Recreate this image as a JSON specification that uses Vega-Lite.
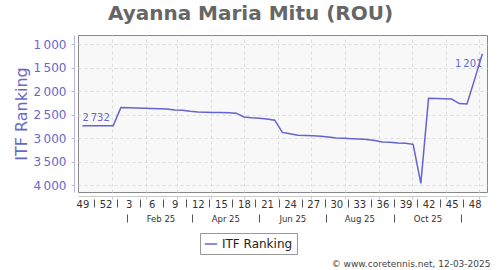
{
  "$schema": "https://vega.github.io/schema/vega-lite/v6.json",
  "width": 409,
  "height": 157,
  "autosize": {"type": "none"},
  "padding": {"left": 78, "top": 35, "right": 13, "bottom": 78},
  "title": {"text": "Ayanna Maria Mitu (ROU)", "fontSize": 20, "font": "DejaVu Sans", "fontWeight": "bold", "color": "#666666", "anchor": "middle", "baseline": "middle", "offset": 1, "dx": -32},
  "config": {
    "font": "DejaVu Sans",
    "locale": {"number": {"decimal": ".", "thousands": "\u2009", "grouping": [3], "currency": ["", ""]}},
    "view": {"stroke": "#888888", "strokeWidth": 1, "fill": "#f8f8f8"}
  },
  "data": {
    "format": {"parse": {"date": "date"}},
    "values": [
      {"date": "2024-12-05", "rank": 2732},
      {"date": "2024-12-12", "rank": 2732},
      {"date": "2024-12-19", "rank": 2732},
      {"date": "2024-12-26", "rank": 2732},
      {"date": "2025-01-02", "rank": 2732},
      {"date": "2025-01-09", "rank": 2347},
      {"date": "2025-01-16", "rank": 2352},
      {"date": "2025-01-23", "rank": 2357},
      {"date": "2025-01-30", "rank": 2362},
      {"date": "2025-02-06", "rank": 2367},
      {"date": "2025-02-13", "rank": 2372},
      {"date": "2025-02-20", "rank": 2378},
      {"date": "2025-02-27", "rank": 2400},
      {"date": "2025-03-06", "rank": 2405},
      {"date": "2025-03-13", "rank": 2425},
      {"date": "2025-03-20", "rank": 2440},
      {"date": "2025-03-27", "rank": 2445},
      {"date": "2025-04-03", "rank": 2450},
      {"date": "2025-04-10", "rank": 2452},
      {"date": "2025-04-17", "rank": 2455},
      {"date": "2025-04-24", "rank": 2465},
      {"date": "2025-05-01", "rank": 2545},
      {"date": "2025-05-08", "rank": 2565},
      {"date": "2025-05-15", "rank": 2575},
      {"date": "2025-05-22", "rank": 2590},
      {"date": "2025-05-29", "rank": 2615},
      {"date": "2025-06-05", "rank": 2875},
      {"date": "2025-06-12", "rank": 2905},
      {"date": "2025-06-19", "rank": 2935},
      {"date": "2025-06-26", "rank": 2940},
      {"date": "2025-07-03", "rank": 2948},
      {"date": "2025-07-10", "rank": 2957},
      {"date": "2025-07-17", "rank": 2975},
      {"date": "2025-07-24", "rank": 2993},
      {"date": "2025-07-31", "rank": 3000},
      {"date": "2025-08-07", "rank": 3008},
      {"date": "2025-08-14", "rank": 3015},
      {"date": "2025-08-21", "rank": 3028},
      {"date": "2025-08-28", "rank": 3050},
      {"date": "2025-09-04", "rank": 3078},
      {"date": "2025-09-11", "rank": 3085},
      {"date": "2025-09-18", "rank": 3099},
      {"date": "2025-09-25", "rank": 3105},
      {"date": "2025-10-02", "rank": 3130},
      {"date": "2025-10-09", "rank": 3960},
      {"date": "2025-10-16", "rank": 2150},
      {"date": "2025-10-23", "rank": 2155},
      {"date": "2025-10-30", "rank": 2160},
      {"date": "2025-11-06", "rank": 2165},
      {"date": "2025-11-13", "rank": 2260},
      {"date": "2025-11-20", "rank": 2270},
      {"date": "2025-11-27", "rank": 1740},
      {"date": "2025-12-04", "rank": 1201}
    ]
  },
  "encoding": {
    "y": {
      "field": "rank",
      "type": "quantitative",
      "scale": {"domain": [800, 4145], "reverse": true, "nice": false, "zero": false},
      "axis": {
        "values": [1000, 1500, 2000, 2500, 3000, 3500, 4000],
        "format": ",d",
        "offset": 4,
        "domainColor": "#b8b8e6",
        "tickColor": "#b8b8e6",
        "tickSize": 3,
        "labelColor": "#6868cc",
        "labelFontSize": 12,
        "labelPadding": 5,
        "title": "ITF Ranking",
        "titleColor": "#6868cc",
        "titleFontSize": 16,
        "titleFontWeight": "normal",
        "titlePadding": 4,
        "grid": true,
        "gridColor": "#dddddd",
        "gridDash": [3, 3]
      }
    }
  },
  "layer": [
    {
      "mark": {"type": "line", "strokeWidth": 1.5},
      "encoding": {
        "x": {
          "field": "date",
          "type": "temporal",
          "scale": {"type": "utc", "nice": false, "domain": [{"year": 2024, "month": 12, "date": 1, "utc": true}, {"year": 2025, "month": 12, "date": 8, "hours": 5, "utc": true}]},
          "axis": {
            "orient": "bottom",
            "title": null,
            "labels": false,
            "values": [
              {"year": 2025, "month": 1, "date": 1, "utc": true},
              {"year": 2025, "month": 2, "date": 1, "utc": true},
              {"year": 2025, "month": 3, "date": 1, "utc": true},
              {"year": 2025, "month": 4, "date": 1, "utc": true},
              {"year": 2025, "month": 5, "date": 1, "utc": true},
              {"year": 2025, "month": 6, "date": 1, "utc": true},
              {"year": 2025, "month": 7, "date": 1, "utc": true},
              {"year": 2025, "month": 8, "date": 1, "utc": true},
              {"year": 2025, "month": 9, "date": 1, "utc": true},
              {"year": 2025, "month": 10, "date": 1, "utc": true},
              {"year": 2025, "month": 11, "date": 1, "utc": true},
              {"year": 2025, "month": 12, "date": 1, "utc": true}
            ],
            "offset": 4,
            "domainColor": "#cccccc",
            "tickColor": "#cccccc",
            "tickSize": 3,
            "grid": true,
            "gridColor": "#dddddd",
            "gridDash": [3, 3]
          }
        },
        "color": {
          "datum": "ITF Ranking",
          "scale": {"range": ["#6363d1"]},
          "legend": {
            "orient": "none",
            "legendX": 122,
            "legendY": 198,
            "title": null,
            "strokeColor": "#999999",
            "padding": 4,
            "labelFontSize": 12,
            "labelColor": "#222222",
            "symbolType": "stroke",
            "symbolSize": 150,
            "symbolStrokeWidth": 1.5
          }
        }
      }
    },
    {
      "transform": [{"filter": "time(datum.date) == utc(2024, 11, 5)"}],
      "mark": {"type": "text", "align": "left", "baseline": "middle", "dy": -8, "fontSize": 10, "color": "#6868cc"},
      "encoding": {
        "x": {
          "field": "date",
          "type": "temporal",
          "scale": {"type": "utc", "nice": false, "domain": [{"year": 2024, "month": 12, "date": 1, "utc": true}, {"year": 2025, "month": 12, "date": 8, "hours": 5, "utc": true}]},
          "axis": {
            "orient": "bottom",
            "title": null,
            "values": [
              {"year": 2024, "month": 12, "date": 15, "hours": 12, "utc": true},
              {"year": 2025, "month": 1, "date": 5, "hours": 12, "utc": true},
              {"year": 2025, "month": 1, "date": 26, "hours": 12, "utc": true},
              {"year": 2025, "month": 2, "date": 16, "hours": 12, "utc": true},
              {"year": 2025, "month": 3, "date": 9, "hours": 12, "utc": true},
              {"year": 2025, "month": 3, "date": 30, "hours": 12, "utc": true},
              {"year": 2025, "month": 4, "date": 20, "hours": 12, "utc": true},
              {"year": 2025, "month": 5, "date": 11, "hours": 12, "utc": true},
              {"year": 2025, "month": 6, "date": 1, "hours": 12, "utc": true},
              {"year": 2025, "month": 6, "date": 22, "hours": 12, "utc": true},
              {"year": 2025, "month": 7, "date": 13, "hours": 12, "utc": true},
              {"year": 2025, "month": 8, "date": 3, "hours": 12, "utc": true},
              {"year": 2025, "month": 8, "date": 24, "hours": 12, "utc": true},
              {"year": 2025, "month": 9, "date": 14, "hours": 12, "utc": true},
              {"year": 2025, "month": 10, "date": 5, "hours": 12, "utc": true},
              {"year": 2025, "month": 10, "date": 26, "hours": 12, "utc": true},
              {"year": 2025, "month": 11, "date": 16, "hours": 12, "utc": true},
              {"year": 2025, "month": 12, "date": 7, "hours": 12, "utc": true}
            ],
            "offset": 7,
            "domain": false,
            "grid": false,
            "tickSize": 8,
            "tickColor": "#555555",
            "tickOpacity": {"condition": {"test": "utcyear(datum.value) == 2025 && utcmonth(datum.value) == 11", "value": 0}, "value": 1},
            "labelOffset": -11.5,
            "labelPadding": -8,
            "labelBaseline": "top",
            "labelFontSize": 10,
            "labelColor": "#333333",
            "labelOverlap": false,
            "labelFlush": false,
            "labelBound": false,
            "labelExpr": "'' + toNumber(utcFormat(datum.value - 907200000, '%V'))"
          }
        },
        "text": {"field": "rank", "type": "quantitative", "format": ","}
      }
    },
    {
      "transform": [{"filter": "time(datum.date) == utc(2025, 11, 4)"}],
      "mark": {"type": "text", "align": "right", "baseline": "middle", "dy": 10, "fontSize": 10, "color": "#6868cc"},
      "encoding": {
        "x": {
          "field": "date",
          "type": "temporal",
          "scale": {"type": "utc", "nice": false, "domain": [{"year": 2024, "month": 12, "date": 1, "utc": true}, {"year": 2025, "month": 12, "date": 8, "hours": 5, "utc": true}]},
          "axis": {
            "orient": "bottom",
            "values": [
              {"year": 2025, "month": 1, "date": 15, "utc": true},
              {"year": 2025, "month": 3, "date": 15, "utc": true},
              {"year": 2025, "month": 5, "date": 15, "utc": true},
              {"year": 2025, "month": 7, "date": 15, "utc": true},
              {"year": 2025, "month": 9, "date": 15, "utc": true},
              {"year": 2025, "month": 11, "date": 15, "utc": true}
            ],
            "offset": 22,
            "domain": false,
            "grid": false,
            "tickSize": 8,
            "tickColor": "#555555",
            "labelOffset": 33,
            "labelPadding": -8,
            "labelBaseline": "top",
            "labelFontSize": 8.5,
            "labelColor": "#333333",
            "labelOverlap": false,
            "labelFlush": false,
            "labelBound": false,
            "labelExpr": "utcmonth(datum.value) == 10 ? '' : utcFormat(datum.value + 2678400000, '%b %y')",
            "title": "© www.coretennis.net, 12-03-2025",
            "titleFontSize": 9,
            "titleFontWeight": "normal",
            "titleColor": "#444444",
            "titleX": 412,
            "titleY": 49,
            "titleAlign": "right",
            "titleAnchor": "end",
            "titleBaseline": "middle"
          }
        },
        "text": {"field": "rank", "type": "quantitative", "format": ","}
      }
    }
  ],
  "resolve": {"axis": {"x": "independent"}}
}
